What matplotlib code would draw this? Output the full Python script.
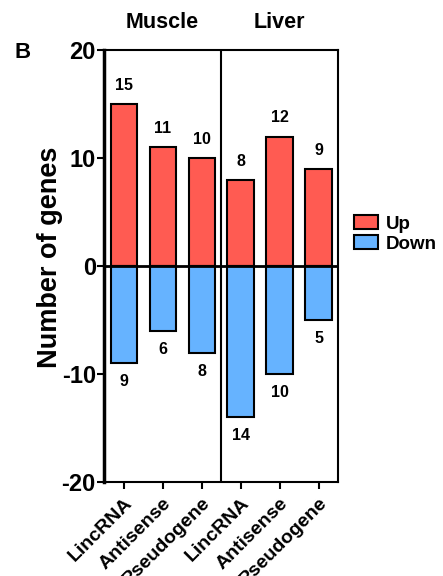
import matplotlib
matplotlib.use("Agg")
import matplotlib.pyplot as plt
from matplotlib.patches import Patch

plt.rcParams['font.family'] = ['Liberation Sans', 'DejaVu Sans']
plt.rcParams['font.weight'] = 'bold'

categories = ["LincRNA", "Antisense", "Pseudogene", "LincRNA", "Antisense", "Pseudogene"]
groups = ["Muscle", "Liver"]
up = [15, 11, 10, 8, 12, 9]
down = [-9, -6, -8, -14, -10, -5]

up_color = "#FF5B52"
down_color = "#66B3FF"

fig = plt.figure(figsize=(4.43, 5.76), dpi=100)
ax = fig.add_axes([0.235, 0.163, 0.528, 0.750])

x = list(range(len(categories)))
w = 0.67
ax.bar(x, up, width=w, color=up_color, edgecolor='black', linewidth=1.5, label="Up", zorder=2)
ax.bar(x, down, width=w, color=down_color, edgecolor='black', linewidth=1.5, label="Down", zorder=2)

for xi, v in zip(x, up):
    ax.annotate(str(v), (xi, v), xytext=(0, 8), textcoords='offset points',
                ha='center', va='bottom', fontsize=11.5, fontweight='bold')
for xi, v in zip(x, down):
    ax.annotate(str(abs(v)), (xi, v), xytext=(0, -8), textcoords='offset points',
                ha='center', va='top', fontsize=11.5, fontweight='bold')

ax.axhline(0, color='black', linewidth=2, zorder=3)
ax.axvline(2.5, color='black', linewidth=1.5, zorder=3)

ax.set_xlim(-0.5, 5.5)
ax.set_ylim(-20, 20)
ax.set_yticks([-20, -10, 0, 10, 20])
ax.set_yticklabels(["-20", "-10", "0", "10", "20"], fontsize=17, fontweight='bold')
ax.set_xticks(x)
ax.set_xticklabels(categories, rotation=45, ha='right', rotation_mode='anchor',
                   fontsize=14, fontweight='bold')
ax.tick_params(axis='both', direction='out', length=5, width=1.5)
ax.tick_params(axis='y', pad=1)
ax.tick_params(axis='x', pad=4)

for s in ['top', 'right', 'bottom']:
    ax.spines[s].set_linewidth(1.5)
ax.spines['left'].set_linewidth(2.5)

ax.set_ylabel("Number of genes", fontsize=19.5, fontweight='bold')
ax.yaxis.set_label_coords(-0.175, 0.52)

ax.text(1, 1.04, groups[0], transform=ax.get_xaxis_transform(), ha='center', va='bottom',
        fontsize=15.5, fontweight='bold')
ax.text(4, 1.04, groups[1], transform=ax.get_xaxis_transform(), ha='center', va='bottom',
        fontsize=15.5, fontweight='bold')
fig.text(14/443, 1 - 52/576, "B", fontsize=16, fontweight='bold', ha='left', va='center')

handles = [Patch(facecolor=up_color, edgecolor='black', linewidth=1.5, label="Up"),
           Patch(facecolor=down_color, edgecolor='black', linewidth=1.5, label="Down")]
fig.legend(handles=handles, loc='center left', bbox_to_anchor=(354/443, 1 - 234/576),
           frameon=False, prop={'size': 13.5, 'weight': 'bold'}, handlelength=1.3,
           handleheight=0.7, handletextpad=0.4, labelspacing=0.15, borderaxespad=0,
           borderpad=0)

fig.savefig("out.png", dpi=100)
